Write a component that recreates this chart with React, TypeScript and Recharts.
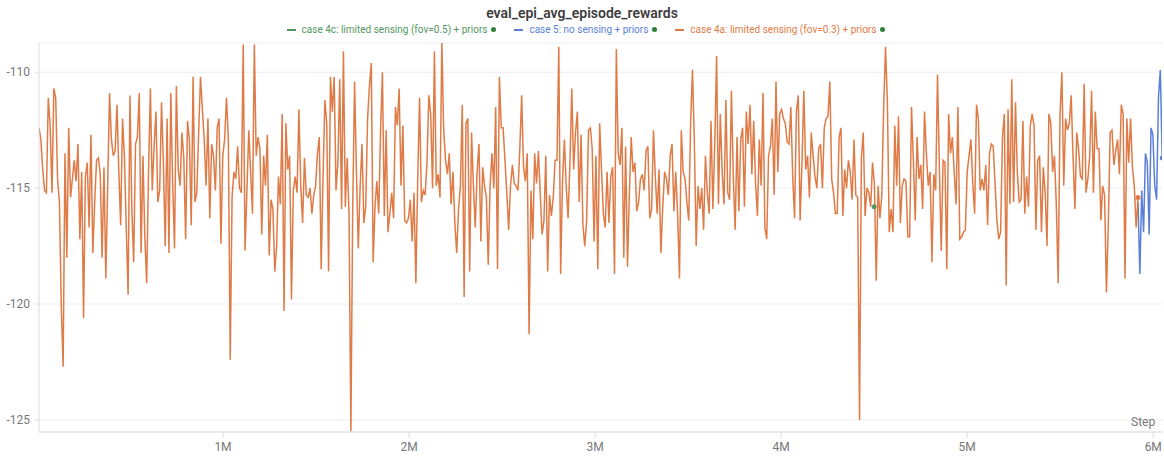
import React from 'react';
import { LineChart, Line, XAxis, YAxis, CartesianGrid } from 'recharts';

// step range of the runs
const ORANGE_FIRST_STEP = 11000;
const ORANGE_LAST_STEP = 5918000;
const BLUE_STEP_SIZE = 10000;

const X_TICKS = [1000000, 2000000, 3000000, 4000000, 5000000, 6000000];
const Y_TICKS = [-125, -120, -115, -110];

// case 4a: limited sensing (fov=0.3) + priors, read left to right
const ORANGE_A = [
    -112.4, -112.9, -114.2, -115.1, -115.2, -111.1, -112.3, -115.2, -110.7, -111.1, -114.6, -115.6, -120.1, -122.7,
    -113.5, -118.0, -112.4, -115.4, -114.6, -113.8, -114.7, -113.1, -117.2, -114.3, -120.6, -114.5, -113.9, -116.7,
    -112.7, -117.8, -115.6, -113.8, -113.7, -114.4, -118.0, -114.1, -118.9, -114.9, -110.9, -112.9, -113.6, -113.4,
    -111.4, -114.3, -116.6, -112.0, -113.6, -116.7, -119.6, -111.0, -115.9, -118.2, -113.1, -112.8, -110.9, -117.8,
    -113.6, -117.1, -119.1, -114.3, -110.7, -115.1, -113.2, -111.7, -115.6, -115.1, -111.3, -113.9, -117.5, -112.0,
    -117.8, -110.9, -114.8, -117.6, -110.6, -114.2, -114.9, -112.6, -113.7, -117.2, -112.1, -112.9, -116.6, -110.2,
    -115.6, -115.2, -112.6, -110.2, -111.6, -112.9, -114.9, -112.0, -116.3, -113.1, -113.6, -115.1, -112.4, -112.0,
    -117.4, -113.6, -112.9, -111.1, -112.9, -122.4, -115.4, -114.3, -114.6, -113.2, -115.0,
];

const ORANGE_B = [
    -115.2, -108.8, -117.7, -115.1, -112.5, -114.3, -116.1, -108.8, -113.6, -112.8, -113.3, -117.0, -113.6, -114.9,
    -112.7, -117.9, -115.5, -115.9, -118.6, -117.5, -114.5, -115.7, -111.8, -120.3, -112.2, -114.2, -113.6, -119.8,
    -115.1, -114.5, -115.2, -111.6, -114.9, -116.5, -113.7, -115.3, -115.4, -115.0, -116.1, -115.3, -114.9, -113.5,
    -112.8, -118.5, -114.5, -111.2, -112.2, -118.6, -110.2, -111.7, -110.2, -115.1, -113.9, -110.3, -115.9, -109.1,
    -115.8, -113.7, -116.1, -125.5, -115.8, -110.4, -114.3, -117.6, -114.9, -113.1, -116.5, -115.8, -112.0, -110.6,
    -109.6, -118.2, -115.8, -114.7, -116.1, -112.5, -110.0, -116.2, -112.5, -116.9, -116.1, -115.2, -116.3, -111.5,
    -112.3, -110.7, -114.9, -112.3, -116.4, -116.5, -116.3, -115.5, -117.3, -115.2, -119.1, -114.6, -111.1, -115.6,
    -115.1, -115.3, -113.9, -111.0, -111.8, -115.0, -109.1, -114.9, -114.4, -115.4, -108.7, -112.5, -113.8, -114.4,
    -113.5, -115.7, -114.3, -116.5, -117.8, -115.9, -114.9, -111.4, -119.7, -112.2,
];

const ORANGE_C = [
    -112.0, -118.6, -112.6, -114.9, -116.7, -114.3, -113.1, -117.3, -114.1, -114.9, -115.4, -118.3, -114.9, -113.5,
    -115.0, -111.5, -118.5, -110.2, -112.4, -112.4, -113.8, -115.2, -116.8, -114.9, -114.0, -114.8, -114.9, -115.1,
    -113.3, -111.0, -114.1, -114.7, -113.5, -121.3, -115.1, -117.2, -113.5, -114.8, -113.4, -115.2, -117.0, -116.4,
    -113.6, -118.6, -115.3, -116.2, -115.4, -113.8, -113.8, -108.9, -118.7, -114.7, -112.9, -114.9, -116.3, -113.9,
    -110.7, -114.2, -112.6, -111.7, -115.6, -112.7, -116.6, -117.5, -116.4, -112.5, -112.4, -113.3, -117.3, -113.6,
    -118.5, -112.2, -114.2, -116.1, -116.7, -114.3, -116.5, -114.5, -114.1, -118.7, -109.0, -113.5, -114.0, -112.4,
    -118.0, -113.2, -118.4, -115.3, -112.8, -114.3, -113.9, -116.0, -115.6, -114.6, -114.4, -115.1, -113.4, -113.2,
    -116.3, -115.9, -112.5, -114.5, -116.1, -114.2, -117.8, -115.8, -114.3, -114.6, -115.3, -113.6, -113.1, -116.0,
    -114.3, -116.1, -118.9, -112.5, -114.3, -114.6, -115.6, -116.4, -112.2, -109.9, -112.9, -117.5,
];

const ORANGE_D = [
    -114.9, -115.9, -115.0, -116.8, -113.6, -115.2, -116.1, -112.1, -115.9, -113.1, -109.3, -115.7, -111.8, -114.3,
    -115.7, -111.2, -115.2, -115.5, -110.8, -114.5, -116.8, -112.8, -116.0, -112.9, -112.4, -115.8, -111.7, -113.1,
    -111.4, -114.4, -112.1, -114.8, -116.2, -112.9, -114.9, -110.9, -116.7, -117.2, -113.6, -113.2, -112.0, -115.3,
    -110.4, -114.3, -111.8, -111.6, -112.0, -112.2, -113.0, -113.1, -111.5, -114.5, -116.3, -111.7, -111.0, -116.4,
    -113.9, -110.8, -114.2, -113.6, -115.4, -112.6, -113.6, -114.5, -115.0, -113.3, -113.1, -115.0, -112.4, -112.0,
    -111.9, -110.4, -114.6, -115.2, -116.1, -116.1, -112.8, -112.4, -116.2, -114.2, -115.0, -113.8, -114.3, -115.5,
    -112.9, -115.3, -115.4, -125.0, -113.7, -112.6, -116.2, -115.0, -115.2, -115.8, -113.9, -114.8, -119.0, -114.9,
    -116.3, -115.3, -111.5, -108.9, -111.3, -116.9, -115.9, -116.9, -112.3, -114.9, -111.9, -116.5, -114.9, -114.6,
    -114.7, -117.1, -117.1, -111.5, -113.8, -116.4, -112.8, -114.6, -114.0, -115.9, -111.7, -113.5,
];

const ORANGE_E = [
    -114.9, -114.3, -118.2, -114.4, -115.1, -110.1, -114.1, -117.7, -113.8, -113.9, -118.5, -111.8, -113.5, -112.8,
    -114.3, -115.7, -111.5, -117.2, -117.1, -116.9, -116.8, -114.3, -113.6, -112.9, -114.8, -116.1, -111.4, -112.0,
    -115.1, -114.6, -115.1, -114.0, -116.6, -113.5, -113.1, -113.2, -114.8, -116.4, -117.2, -116.9, -112.8, -111.8,
    -119.2, -111.6, -115.7, -110.3, -115.6, -111.3, -114.3, -115.6, -115.5, -112.1, -116.1, -114.5, -115.8, -112.3,
    -111.8, -112.3, -116.8, -113.8, -113.6, -116.9, -114.1, -115.2, -117.5, -111.8, -112.2, -114.3, -113.6, -115.7,
    -119.1, -111.8, -110.0, -114.9, -112.0, -112.5, -112.2, -111.0, -113.6, -115.9, -112.6, -113.3, -114.5, -114.6,
    -110.5, -115.2, -114.6, -113.6, -110.8, -115.2, -111.7, -113.3, -113.3, -116.4, -114.9, -115.3, -119.5, -116.6,
    -112.6, -112.5, -114.0, -113.4, -112.9, -114.4, -111.4, -111.8, -118.9, -112.0, -113.9, -112.0, -114.1, -114.9,
    -116.7, -115.4,
];

// case 5: no sensing + priors (starts where 4a stops)
const BLUE = [
    -115.6, -118.7, -115.1, -116.9, -113.5, -113.9, -117.0, -112.4, -112.7, -114.9, -115.5, -111.1, -109.9, -113.7,
];

// case 4c: only its last logged point is visible
const GREEN_STEPS = [4500000];
const GREEN = [-115.8];

const ORANGE_VALUES = [...ORANGE_A, ...ORANGE_B, ...ORANGE_C, ...ORANGE_D, ...ORANGE_E];
const orangeGap = (ORANGE_LAST_STEP - ORANGE_FIRST_STEP) / (ORANGE_VALUES.length - 1);
const orangeData = ORANGE_VALUES.map((value, i) => ({ step: ORANGE_FIRST_STEP + i * orangeGap, value }));
const blueData = BLUE.map((value, i) => ({ step: ORANGE_LAST_STEP + i * BLUE_STEP_SIZE, value }));
const greenData = GREEN.map((value, i) => ({ step: GREEN_STEPS[i], value }));

const ORANGE_COLOR = '#df7b47';
const BLUE_COLOR = '#5a7fd8';
const GREEN_COLOR = '#52975d';
const DOT_GREEN = '#2f7d3b';
const FONT = 'Roboto, "Noto Sans", sans-serif';

const lastDot = (count: number, color: string) => (props: any) => {
    if (props.index !== count - 1) return <g key={props.key ?? props.index} />;
    return <circle key={props.key ?? props.index} cx={props.cx} cy={props.cy} r={2.5} fill={color} stroke="none" />;
};

const LEGEND = [
    { label: 'case 4c: limited sensing (fov=0.5) + priors', color: GREEN_COLOR },
    { label: 'case 5: no sensing + priors', color: BLUE_COLOR },
    { label: 'case 4a: limited sensing (fov=0.3) + priors', color: ORANGE_COLOR },
];

export default function App() {
    return (
        <div style={{ position: 'relative', width: 1164, height: 467, background: '#fff', fontFamily: FONT }}>
            <style>{'body{margin:0;}'}</style>
            <div style={{ position: 'absolute', top: 5, left: 0, width: 1164, textAlign: 'center', fontSize: 14, fontWeight: 600, color: '#3d3d3d' }}>
                eval_epi_avg_episode_rewards
            </div>
            <div style={{ position: 'absolute', top: 24, left: 0, width: 1172, display: 'flex', justifyContent: 'center', gap: 18, fontSize: 10 }}>
                {LEGEND.map((item) => (
                    <div key={item.label} style={{ display: 'flex', alignItems: 'center', color: item.color }}>
                        <span style={{ display: 'inline-block', width: 9, height: 2, background: item.color, marginRight: 6 }} />
                        <span>{item.label}</span>
                        <span style={{ display: 'inline-block', width: 5, height: 5, borderRadius: '50%', background: DOT_GREEN, marginLeft: 4 }} />
                    </div>
                ))}
            </div>
            <div style={{ position: 'absolute', top: 0, left: 0 }}>
                <LineChart width={1164} height={467} margin={{ top: 43, right: 2, bottom: 0, left: 0 }}>
                    <CartesianGrid vertical={false} stroke="#ededed" />
                    <XAxis
                        dataKey="step"
                        type="number"
                        domain={[11000, 6047000]}
                        ticks={X_TICKS}
                        tickFormatter={(v: number) => `${v / 1000000}M`}
                        height={35}
                        allowDataOverflow
                        stroke="#dcdcdc"
                        tickSize={6}
                        tickMargin={4}
                        tick={{ fill: '#777', fontSize: 12, fontFamily: FONT }}
                    />
                    <YAxis
                        type="number"
                        domain={[-125.52, -108.74]}
                        ticks={Y_TICKS}
                        allowDataOverflow
                        width={39}
                        stroke="#dcdcdc"
                        tickSize={4}
                        tickMargin={5}
                        tick={{ fill: '#777', fontSize: 12, fontFamily: FONT }}
                    />
                    <Line data={greenData} dataKey="value" stroke={GREEN_COLOR} strokeWidth={1.5} dot={lastDot(greenData.length, GREEN_COLOR)} isAnimationActive={false} />
                    <Line data={blueData} dataKey="value" stroke={BLUE_COLOR} strokeWidth={1.5} dot={lastDot(blueData.length, BLUE_COLOR)} isAnimationActive={false} />
                    <Line data={orangeData} dataKey="value" stroke={ORANGE_COLOR} strokeWidth={1.5} dot={lastDot(orangeData.length, ORANGE_COLOR)} isAnimationActive={false} />
                </LineChart>
            </div>
            <div style={{ position: 'absolute', left: 1131, top: 415, fontSize: 12, color: '#777' }}>Step</div>
        </div>
    );
}
